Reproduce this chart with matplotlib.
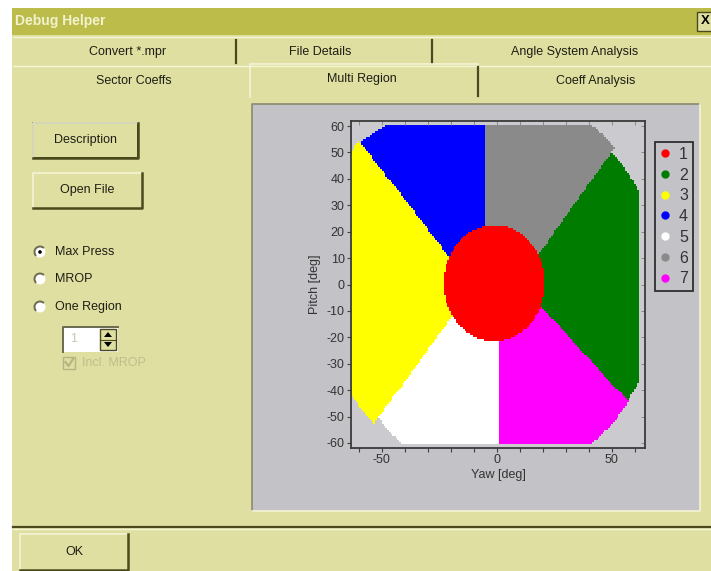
import numpy as np
import matplotlib
matplotlib.use("Agg")
import matplotlib.pyplot as plt
from matplotlib.patches import Rectangle, Circle, Polygon, Arc
from matplotlib.colors import ListedColormap
from matplotlib.lines import Line2D

plt.rcParams["font.family"] = ["Liberation Sans", "DejaVu Sans"]
plt.rcParams["axes.unicode_minus"] = False

# ---- data ----
region_ids = [1, 2, 3, 4, 5, 6, 7]
region_colors = ["#ff0000", "#007c00", "#ffff00", "#0000ff", "#ffffff", "#8a8a8a", "#ff00ff"]

core_center = (-1.0, 0.5)     # yaw, pitch of region 1
core_radius = 22.0

# outer regions counter-clockwise; each starts at a straight boundary line,
# given by its far-field direction (deg) and its offset from the origin (deg)
outer_ids = [7, 2, 6, 4, 3, 5]
edge_dir = [-90.0, -43.4, 50.7, 90.0, 131.7, 230.0]
edge_offset = [1.2, 7.2, -6.9, 5.0, 8.4, -7.0]
# how far each outer region reaches, at its first and at its last boundary
reach_start = [74.0, 72.0, 73.0, 66.0, 81.0, 72.0]
reach_end = [72.5, 71.0, 74.0, 80.0, 75.0, 76.0]

yaw_range = (-63.0, 61.5)
pitch_range = (-60.0, 60.0)
step = 0.75

yaw_ticks = [-50, 0, 50]
yaw_minor = [-60, -40, -30, -20, -10, 10, 20, 30, 40, 60]
pitch_ticks = list(range(-60, 61, 10))

tabs_row1 = [("Convert *.mpr", 128), ("File Details", 320), ("Angle System Analysis", 575)]
tabs_row2 = [("Sector Coeffs", 134), ("Multi Region", 362), ("Coeff Analysis", 596)]
radios = [("Max Press", 252, True), ("MROP", 279, False), ("One Region", 307, False)]

# ---- region map ----
yaw = np.arange(yaw_range[0], yaw_range[1] + step / 2, step)
pitch = np.arange(pitch_range[0], pitch_range[1] + step / 2, step)
Y, P = np.meshgrid(yaw, pitch)
r = np.maximum(np.hypot(Y, P), 1e-6)
phi = np.degrees(np.arctan2(P, Y))
edges = [a + np.degrees(np.arcsin(np.clip(d / r, -1, 1))) for a, d in zip(edge_dir, edge_offset)]

label = np.zeros(Y.shape, dtype=int)
outside = np.zeros(Y.shape, dtype=bool)
n = len(outer_ids)
for k in range(n):
    width = (edges[(k + 1) % n] - edges[k]) % 360
    rel = (phi - edges[k]) % 360
    inside = rel < width
    frac = np.clip(rel / width, 0, 1)
    reach = reach_start[k] + (reach_end[k] - reach_start[k]) * frac
    label[inside] = outer_ids[k]
    outside |= inside & (r > reach)

core = np.hypot(Y - core_center[0], P - core_center[1]) < core_radius
label[core] = 1
outside &= ~core
grid = np.ma.masked_array(label - 1, mask=outside)

# ---- dialog ----
W, H = 711, 571
KHAKI = "#dfdfa2"
TITLE = "#bcbc4a"
PANEL = "#c3c3c7"
DARK = "#4a4a1e"
LIGHT = "#f4f4d6"
TXT = "#1e1e14"

fig = plt.figure(figsize=(W / 100, H / 100), dpi=100)
bg = fig.add_axes([0, 0, 1, 1])
bg.set_xlim(0, W)
bg.set_ylim(H, 0)
bg.axis("off")

bg.add_patch(Rectangle((12, 8), W - 12, H - 8, fc=KHAKI, ec="none"))
bg.add_patch(Rectangle((12, 8), W - 12, 27, fc=TITLE, ec="none"))
bg.text(15, 21.5, "Debug Helper", color="#f2f2d0", fontsize=10, fontweight="bold", va="center")
bg.add_patch(Rectangle((697, 12), 16, 19, fc=KHAKI, ec=DARK, lw=1))
bg.text(705, 21.5, "X", fontsize=9.5, fontweight="bold", ha="center", va="center", color="black")

# tabs
bg.plot([13, W], [37, 37], color=LIGHT, lw=1)
bg.plot([13, W], [66, 66], color=LIGHT, lw=1)
for x in (236, 432):
    bg.plot([x, x], [40, 63], color=DARK, lw=1.6)
bg.plot([250, 250, 478], [97, 64, 64], color=LIGHT, lw=1.2)
bg.plot([478, 478], [67, 96], color=DARK, lw=1.6)
for txt, x in tabs_row1:
    bg.text(x, 52, txt, fontsize=9, ha="center", va="center", color=TXT)
for txt, x in tabs_row2:
    bg.text(x, 81 if txt != "Multi Region" else 79, txt, fontsize=9, ha="center", va="center", color=TXT)


def button(x0, y0, x1, y1, text, focus=False):
    bg.add_patch(Rectangle((x0, y0), x1 - x0, y1 - y0, fc=KHAKI, ec="none"))
    bg.plot([x0, x0, x1], [y1, y0, y0], color=LIGHT, lw=1.2)
    bg.plot([x0, x1, x1], [y1, y1, y0], color=DARK, lw=1.8)
    if focus:
        bg.add_patch(Rectangle((x0, y0), x1 - x0, y1 - y0, fill=False, ec="#2a2a14", lw=1.3))
    bg.text((x0 + x1) / 2, (y0 + y1) / 2, text, fontsize=9, ha="center", va="center", color=TXT)


button(33, 123, 138, 158, "Description", focus=True)
button(33, 173, 142, 208, "Open File")
button(20, 534, 128, 570, "OK")

for txt, y, sel in radios:
    bg.add_patch(Circle((40, y), 5.5, fc="white", ec="none"))
    bg.add_patch(Arc((40, y), 11, 11, theta1=135, theta2=315, color="#6a6a50", lw=1.4))
    if sel:
        bg.add_patch(Circle((40, y), 1.8, fc="black", ec="none"))
    bg.text(55, y, txt, fontsize=9, va="center", color=TXT)

# spin box
bg.add_patch(Rectangle((63, 327), 55, 25, fc="white", ec="none"))
bg.plot([63, 63, 118], [352, 327, 327], color="#6a6a50", lw=1.4)
bg.text(70, 339.5, "1", fontsize=9, va="center", color="#c8c8b0")
bg.add_patch(Rectangle((100, 329), 16, 21, fc=KHAKI, ec=DARK, lw=1))
bg.plot([100, 116], [339.5, 339.5], color=DARK, lw=0.8)
bg.add_patch(Polygon([[104, 337], [112, 337], [108, 332]], fc="black", ec="none"))
bg.add_patch(Polygon([[104, 342], [112, 342], [108, 347]], fc="black", ec="none"))

# disabled check box
bg.add_patch(Rectangle((63, 357), 12, 12, fc=KHAKI, ec="#b4b484", lw=1))
bg.plot([65.5, 68.5, 73], [362, 366, 359], color="#b4b484", lw=1.6)
bg.text(82, 363.5, "Incl. MROP", fontsize=9, va="center", color="#bebe8c")

# plot panel
bg.add_patch(Rectangle((252, 104), 448, 407, fc=PANEL, ec="none"))
bg.plot([252, 252, 700], [511, 104, 104], color="#8a8a70", lw=1.2)
bg.plot([252, 700, 700], [511, 511, 104], color=LIGHT, lw=1.2)

# bottom separator
bg.plot([13, W], [527, 527], color=DARK, lw=1.6)
bg.plot([13, W], [529, 529], color=LIGHT, lw=1)

# ---- the chart ----
ax = fig.add_axes([351 / W, 1 - 448 / H, (645 - 351) / W, (448 - 121) / H])
ax.set_facecolor("#cbcbcf")
cmap = ListedColormap(region_colors)
ax.imshow(grid, cmap=cmap, vmin=-0.5, vmax=len(region_ids) - 0.5, origin="lower",
          interpolation="nearest", aspect="auto",
          extent=[yaw[0] - step / 2, yaw[-1] + step / 2, pitch[0] - step / 2, pitch[-1] + step / 2])
ax.set_xlim(-63.3, 64.5)
ax.set_ylim(-61.9, 61.9)
ax.set_xticks(yaw_ticks)
ax.set_xticks(yaw_minor, minor=True)
ax.set_yticks(pitch_ticks)
ax.tick_params(axis="both", which="both", direction="out", length=3, width=0.8,
               color="#404040", labelsize=9, labelcolor="#333333", pad=1.5)
for s in ax.spines.values():
    s.set_color("#3a3a3a")
    s.set_linewidth(1.3)
ax.set_xlabel("Yaw [deg]", fontsize=9, color="#333333", labelpad=2)
ax.set_ylabel("Pitch [deg]", fontsize=9, color="#333333", labelpad=4)

# faint inner ticks on the top and right edges
top = ax.secondary_xaxis("top")
top.set_xticks(yaw_ticks + yaw_minor)
top.tick_params(direction="in", length=3, width=0.7, color="#8a8a8a", labeltop=False)
right = ax.secondary_yaxis("right")
right.set_yticks(pitch_ticks)
right.tick_params(direction="in", length=3, width=0.7, color="#8a8a8a", labelright=False)
for sec in (top, right):
    for s in sec.spines.values():
        s.set_visible(False)

handles = [Line2D([], [], ls="", marker="o", ms=5, color=c, mec=c) for c in region_colors]
leg = ax.legend(handles, [str(i) for i in region_ids], loc="upper left",
                bbox_to_anchor=(655 / W, 1 - 142 / H), bbox_transform=fig.transFigure,
                fontsize=11.5, handlelength=0.7, handletextpad=0.5, borderpad=0.3,
                labelspacing=0.36, borderaxespad=0, fancybox=False, framealpha=1)
leg.get_frame().set_facecolor(PANEL)
leg.get_frame().set_edgecolor("#2e2e2e")
leg.get_frame().set_linewidth(1.3)
for tx in leg.get_texts():
    tx.set_color("#333333")

fig.savefig("out.png", dpi=100)
